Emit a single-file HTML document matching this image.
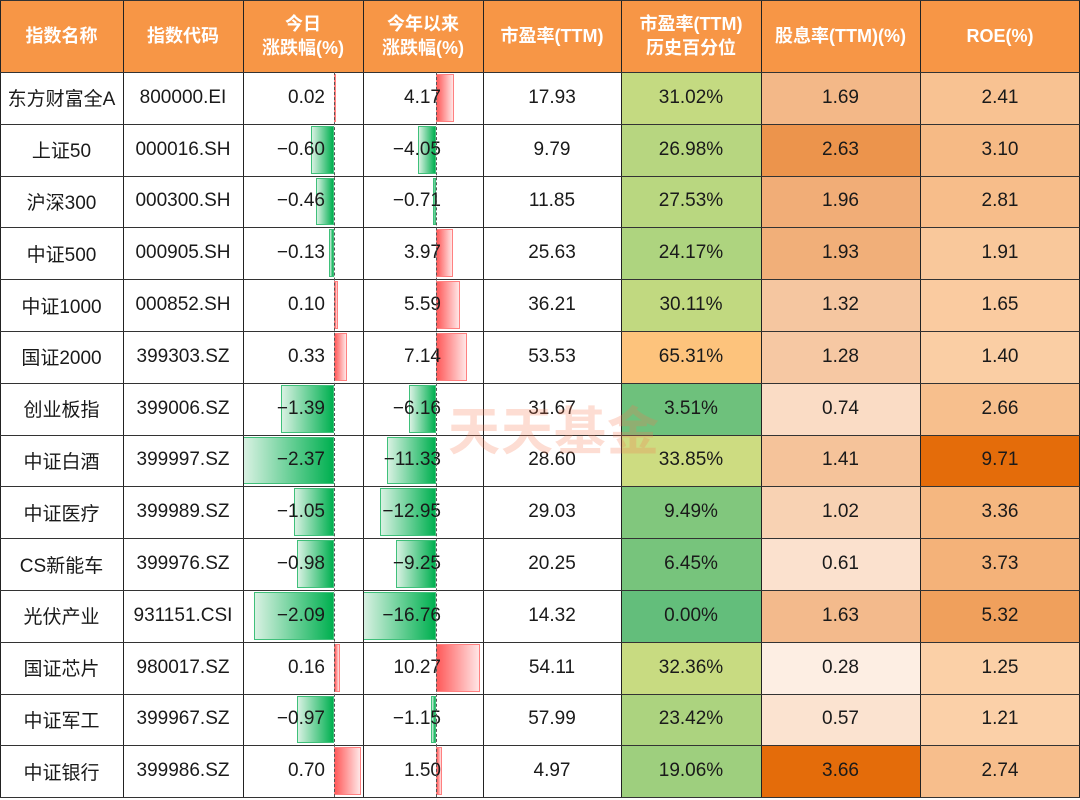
<!DOCTYPE html>
<html><head><meta charset="utf-8">
<style>
body{margin:0;background:#fff;width:1080px;height:800px;overflow:hidden;font-family:"Liberation Sans","Noto Sans CJK SC",sans-serif;}
#t{position:absolute;left:0;top:0;width:1080px;height:800px;}
.c{position:absolute;box-sizing:border-box;display:flex;align-items:center;justify-content:center;font-size:19px;color:#1a1a1a;white-space:nowrap;}
.h{color:#fff;font-size:18px;background:#f79646;text-align:center;line-height:24px;font-weight:bold;}
.r{justify-content:flex-end;}
.bar{position:absolute;box-sizing:border-box;}
.vl{position:absolute;background:#222;width:1px;}
.hl{position:absolute;background:#333;height:1px;left:0;width:1080px;}
.wm{position:absolute;left:448px;top:390px;font-size:52px;font-weight:bold;color:rgba(247,120,80,0.25);font-family:"Noto Sans CJK SC",sans-serif;letter-spacing:1px;}
</style></head><body>
<div id="t"></div>
<script>
const names=["东方财富全A","上证50","沪深300","中证500","中证1000","国证2000","创业板指","中证白酒","中证医疗","CS新能车","光伏产业","国证芯片","中证军工","中证银行"];
const codes=["800000.EI","000016.SH","000300.SH","000905.SH","000852.SH","399303.SZ","399006.SZ","399997.SZ","399989.SZ","399976.SZ","931151.CSI","980017.SZ","399967.SZ","399986.SZ"];
const daily=[0.02,-0.60,-0.46,-0.13,0.10,0.33,-1.39,-2.37,-1.05,-0.98,-2.09,0.16,-0.97,0.70];
const ytd=[4.17,-4.05,-0.71,3.97,5.59,7.14,-6.16,-11.33,-12.95,-9.25,-16.76,10.27,-1.15,1.50];
const pe=[17.93,9.79,11.85,25.63,36.21,53.53,31.67,28.60,29.03,20.25,14.32,54.11,57.99,4.97];
const pePct=[31.02,26.98,27.53,24.17,30.11,65.31,3.51,33.85,9.49,6.45,0.00,32.36,23.42,19.06];
const divY=[1.69,2.63,1.96,1.93,1.32,1.28,0.74,1.41,1.02,0.61,1.63,0.28,0.57,3.66];
const roe=[2.41,3.10,2.81,1.91,1.65,1.40,2.66,9.71,3.36,3.73,5.32,1.25,1.21,2.74];
const headers=["指数名称","指数代码","今日<br>涨跌幅(%)","今年以来<br>涨跌幅(%)","市盈率(TTM)","市盈率(TTM)<br>历史百分位","股息率(TTM)(%)","ROE(%)"];
const colX=[0,123,243,363,483,621,761,920,1080];
const headH=72, rowH=51.8;
const T=document.getElementById('t');
function mk(cls,l,t,w,h,html){const d=document.createElement('div');d.className=cls;d.style.left=l+'px';d.style.top=t+'px';d.style.width=w+'px';d.style.height=h+'px';if(html!==undefined)d.innerHTML=html;T.appendChild(d);return d;}
function hex(c){return [parseInt(c.slice(1,3),16),parseInt(c.slice(3,5),16),parseInt(c.slice(5,7),16)];}
function lerp(a,b,t){a=hex(a);b=hex(b);return 'rgb('+a.map((v,i)=>Math.round(v+(b[i]-v)*t)).join(',')+')';}
function peColor(v){return v<=50?lerp('#63be7b','#ffeb84',v/50):lerp('#ffeb84','#f8696b',(v-50)/50);}
function scaleColor(arr,v,c0,c1){const mn=Math.min(...arr),mx=Math.max(...arr);return lerp(c0,c1,(v-mn)/(mx-mn));}
const hn=["header-name","header-code","header-daily-change","header-ytd-change","header-pe","header-pe-percentile","header-dividend-yield","header-roe"];
for(let i=0;i<8;i++){const d=mk('c h',colX[i],0,colX[i+1]-colX[i],headH,headers[i]);

}
const dAxis=334, dScale=38.2, yAxis=436, yScale=4.33;
function bar(axis,scale,v,top,name){const w=Math.abs(v)*scale;const b=document.createElement('div');b.className='bar';
const l=v>=0?axis:axis-w;b.style.left=l+'px';b.style.width=Math.max(w,1.5)+'px';b.style.top=(top+2)+'px';b.style.height=(rowH-4)+'px';
if(v>=0){b.style.background='linear-gradient(to right,#ff5a5a,#ffe6e6)';b.style.border='1px solid #ff8080';}
else{b.style.background='linear-gradient(to left,#00b050,#d8f1e2)';b.style.border='1px solid #3fc07a';}


T.appendChild(b);}
for(let r=0;r<names.length;r++){const top=headH+r*rowH;
bar(dAxis,dScale,daily[r],top,'daily-bar');
bar(yAxis,yScale,ytd[r],top,'ytd-bar');
let d;
d=mk('c',colX[0],top,colX[1]-colX[0],rowH,names[r]);


d=mk('c',colX[1],top,colX[2]-colX[1],rowH,codes[r]);


d=mk('c r',colX[2],top,colX[3]-colX[2],rowH,daily[r].toFixed(2).replace('-','−'));d.style.paddingRight='38px';


d=mk('c r',colX[3],top,colX[4]-colX[3],rowH,ytd[r].toFixed(2).replace('-','−'));d.style.paddingRight='42px';


d=mk('c',colX[4],top,colX[5]-colX[4],rowH,pe[r].toFixed(2));


d=mk('c',colX[5],top,colX[6]-colX[5],rowH,pePct[r].toFixed(2)+'%');d.style.background=peColor(pePct[r]);


d=mk('c',colX[6],top,colX[7]-colX[6],rowH,divY[r].toFixed(2));d.style.background=scaleColor(divY,divY[r],'#fdeee3','#e46c0a');


d=mk('c',colX[7],top,colX[8]-colX[7],rowH,roe[r].toFixed(2));d.style.background=scaleColor(roe,roe[r],'#fbd0a8','#e46c0a');


}
const bottom=headH+names.length*rowH;
for(let i=0;i<colX.length;i++){const x=Math.min(colX[i],1079);const v=document.createElement('div');v.className='vl';v.style.left=x+'px';v.style.top='0px';v.style.height=bottom+'px';T.appendChild(v);}
for(let r=0;r<=names.length+1;r++){const y=r==0?0:Math.round(headH+(r-1)*rowH);const h=document.createElement('div');h.className='hl';h.style.top=y+'px';T.appendChild(h);}
[dAxis,yAxis].forEach(x=>{const a=document.createElement('div');a.style.cssText='position:absolute;left:'+x+'px;top:'+headH+'px;height:'+(bottom-headH)+'px;border-left:1px dashed #555;';T.appendChild(a);});
const w=document.createElement('div');w.className='wm';w.textContent='天天基金';


T.appendChild(w);
</script>
</body></html>
